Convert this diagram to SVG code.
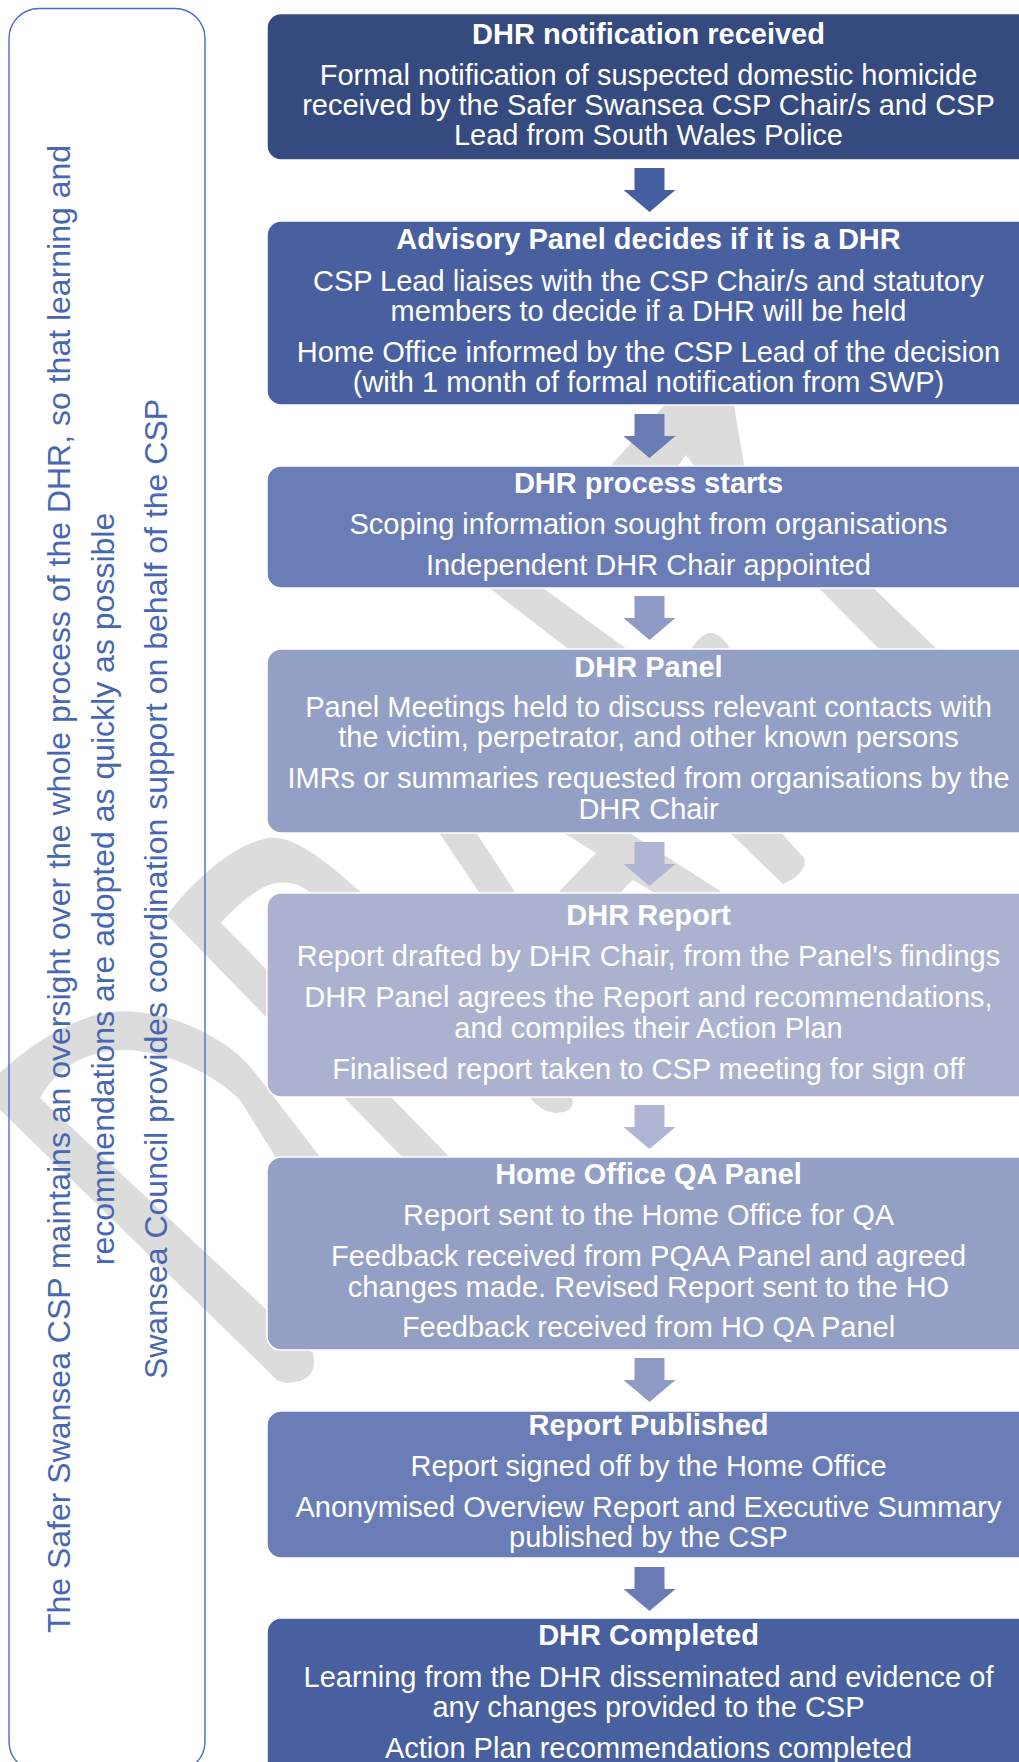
<svg xmlns="http://www.w3.org/2000/svg" xmlns:xlink="http://www.w3.org/1999/xlink" width="1019" height="1762" viewBox="0 0 1019 1762">
<style>
.wm{fill:#DCDCDC;stroke:none}
.box{stroke:#FFFFFF;stroke-width:1.5}
.t{font-family:"Liberation Sans",Arial,sans-serif;font-size:29px;fill:#FFFFFF;text-anchor:middle}
.h{font-weight:bold}
.side{font-family:"Liberation Sans",Arial,sans-serif;font-size:32px;fill:#4767B0;text-anchor:middle}
</style>
<defs>
<path id="arrow" d="M -15 0 H 15 V 22 H 26 L 0 44 L -26 22 H -15 Z"/>
</defs>
<rect width="1019" height="1762" fill="#FFFFFF"/>
<g id="watermark">
<path class="wm" d="M167 915 C190 885 230 845 268 838 C295 834 330 865 362 893 L572 1098 Q576 1112 555 1113 Q540 1111 531 1099 L316 897 C300 882 282 878 262 888 C248 896 232 910 221 923 L509 1218 Q500 1232 471 1228 Z"/>
<path class="wm" d="M-19 1092 C10 1060 60 1020 110 1012 C160 1006 225 1035 253 1070 L317 1153 L422 1290 Q410 1310 380 1305 L358 1290 L273 1153 L240 1100 C215 1075 170 1052 127 1050 C95 1049 60 1062 40 1098 L313 1353 Q318 1375 300 1381 Q285 1385 277 1380 L-10 1100 Z"/>
<path class="wm" d="M669 400 L733 400 L745 470 L697 470 L686 455 L675 470 L607 470 Z"/>
<path class="wm" d="M479 580 L532 580 L635 655 L576 655 Z"/>
<path class="wm" d="M811 580 L865 580 L943 655 L885 655 Z"/>
<path class="wm" d="M688 655 Q700 632 712 633 Q724 635 733 655 Z"/>
<path class="wm" d="M436 828 L473 828 L519 898 L483 898 Z"/>
<path class="wm" d="M556 828 L622 828 L731 898 L663 898 L633 880 L615 898 L553 898 L596 853 Z"/>
<path class="wm" d="M725 828 L777 828 L804 858 Q808 873 783 884 Z"/>
</g>
<g id="side-note">
<rect x="9" y="8.5" width="196" height="1763" rx="30" ry="30" fill="none" stroke="#4A6CBF" stroke-width="1.4"/>
<text class="side" transform="translate(70,889) rotate(-90)">The Safer Swansea CSP maintains an oversight over the whole process of the DHR, so that learning and</text>
<text class="side" transform="translate(113.5,889) rotate(-90)">recommendations are adopted as quickly as possible</text>
<text class="side" transform="translate(167,889) rotate(-90)">Swansea Council provides coordination support on behalf of the CSP</text>
</g>
<g id="connectors">
<use xlink:href="#arrow" x="649.5" y="168" fill="#455FA1"/>
<use xlink:href="#arrow" x="649.5" y="414" fill="#6A7CB6"/>
<use xlink:href="#arrow" x="649.5" y="596" fill="#8F9BC6"/>
<use xlink:href="#arrow" x="649.5" y="842" fill="#AFB6D4"/>
<use xlink:href="#arrow" x="649.5" y="1105" fill="#AFB6D4"/>
<use xlink:href="#arrow" x="649.5" y="1358" fill="#8F9BC6"/>
<use xlink:href="#arrow" x="649.5" y="1567" fill="#6A7CB6"/>
</g>
<g id="node1">
<rect class="box" x="267" y="13.5" width="780" height="146.5" rx="14" fill="#354A7E"/>
<text class="t h" x="648.5" y="44">DHR notification received</text>
<text class="t" x="648.5" y="85">Formal notification of suspected domestic homicide</text>
<text class="t" x="648.5" y="115">received by the Safer Swansea CSP Chair/s and CSP</text>
<text class="t" x="648.5" y="145">Lead from South Wales Police</text>
</g>
<g id="node2">
<rect class="box" x="267" y="221" width="780" height="184" rx="14" fill="#4960A0"/>
<text class="t h" x="648.5" y="249">Advisory Panel decides if it is a DHR</text>
<text class="t" x="648.5" y="291">CSP Lead liaises with the CSP Chair/s and statutory</text>
<text class="t" x="648.5" y="321">members to decide if a DHR will be held</text>
<text class="t" x="648.5" y="362">Home Office informed by the CSP Lead of the decision</text>
<text class="t" x="648.5" y="392">(with 1 month of formal notification from SWP)</text>
</g>
<g id="node3">
<rect class="box" x="267" y="466" width="780" height="122" rx="14" fill="#6B7DB6"/>
<text class="t h" x="648.5" y="493">DHR process starts</text>
<text class="t" x="648.5" y="534">Scoping information sought from organisations</text>
<text class="t" x="648.5" y="575">Independent DHR Chair appointed</text>
</g>
<g id="node4">
<rect class="box" x="267" y="649" width="780" height="184" rx="14" fill="#939FC5"/>
<text class="t h" x="648.5" y="677">DHR Panel</text>
<text class="t" x="648.5" y="717">Panel Meetings held to discuss relevant contacts with</text>
<text class="t" x="648.5" y="747">the victim, perpetrator, and other known persons</text>
<text class="t" x="648.5" y="788">IMRs or summaries requested from organisations by the</text>
<text class="t" x="648.5" y="819">DHR Chair</text>
</g>
<g id="node5">
<rect class="box" x="267" y="893" width="780" height="204" rx="14" fill="#ABB2CF"/>
<text class="t h" x="648.5" y="925">DHR Report</text>
<text class="t" x="648.5" y="966">Report drafted by DHR Chair, from the Panel's findings</text>
<text class="t" x="648.5" y="1007">DHR Panel agrees the Report and recommendations,</text>
<text class="t" x="648.5" y="1038">and compiles their Action Plan</text>
<text class="t" x="648.5" y="1079">Finalised report taken to CSP meeting for sign off</text>
</g>
<g id="node6">
<rect class="box" x="267" y="1157" width="780" height="193" rx="14" fill="#939FC5"/>
<text class="t h" x="648.5" y="1184">Home Office QA Panel</text>
<text class="t" x="648.5" y="1225">Report sent to the Home Office for QA</text>
<text class="t" x="648.5" y="1266">Feedback received from PQAA Panel and agreed</text>
<text class="t" x="648.5" y="1297">changes made. Revised Report sent to the HO</text>
<text class="t" x="648.5" y="1337">Feedback received from HO QA Panel</text>
</g>
<g id="node7">
<rect class="box" x="267" y="1411" width="780" height="147" rx="14" fill="#6B7DB6"/>
<text class="t h" x="648.5" y="1435">Report Published</text>
<text class="t" x="648.5" y="1476">Report signed off by the Home Office</text>
<text class="t" x="648.5" y="1517">Anonymised Overview Report and Executive Summary</text>
<text class="t" x="648.5" y="1547">published by the CSP</text>
</g>
<g id="node8">
<rect class="box" x="267" y="1618" width="780" height="200" rx="14" fill="#4960A0"/>
<text class="t h" x="648.5" y="1645">DHR Completed</text>
<text class="t" x="648.5" y="1687">Learning from the DHR disseminated and evidence of</text>
<text class="t" x="648.5" y="1717">any changes provided to the CSP</text>
<text class="t" x="648.5" y="1758">Action Plan recommendations completed</text>
</g>
</svg>
